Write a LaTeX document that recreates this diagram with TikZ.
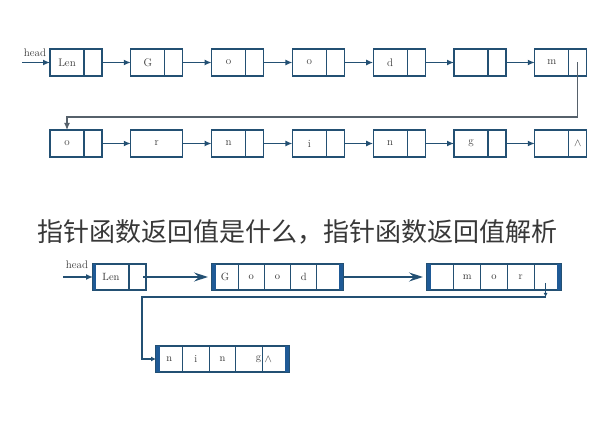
\documentclass[tikz,border=0pt]{standalone}
\usepackage{fontspec}
\newfontfamily\cjk{Noto Sans CJK SC}
\usetikzlibrary{positioning,arrows.meta}

\definecolor{boxblue}{HTML}{235073}
\definecolor{barblue}{HTML}{1F5A96}
\definecolor{linkgray}{HTML}{56616B}
\definecolor{labelgray}{HTML}{3A3A3A}

\tikzset{
  cell/.style={draw=boxblue, line width=1.2pt, minimum height=27pt, inner sep=0pt, outer sep=0pt, text=labelgray, font=\fontsize{11}{13}\selectfont},
  datacell/.style={cell, minimum width=34pt},
  ptrcell/.style={cell, minimum width=18pt},
  wholecell/.style={cell, minimum width=52pt},
  seqcell/.style={cell, minimum height=26pt, minimum width=#1, font=\fontsize{10.5}{12}\selectfont},
  link/.style={draw=boxblue, line width=1.4pt, -{Latex[length=7pt,width=6pt]}},
  bigarrow/.style={draw=boxblue, line width=1.3pt, shorten >=4pt, -{Stealth[length=14pt,width=9pt,inset=5pt]}},
  bar/.style={fill=barblue, draw=none},
}

\begin{document}
\begin{tikzpicture}[x=1pt, y=-1pt]

\useasboundingbox (0,0) rectangle (598,446);

% Good morning list, first row
\path
(35,53) node [text=labelgray, font=\fontsize{11}{13}\selectfont] (head1) {head};
\coordinate (h1) at (22,62.5);

\node[datacell] (t1) at (67,62.5) {Len};
\node[ptrcell, right=0pt of t1] (t1p) {};
\node[datacell] (t2) at (147.8,62.5) {G};
\node[ptrcell, right=0pt of t2] (t2p) {};
\node[datacell] (t3) at (228.6,62.5) {o};
\node[ptrcell, right=0pt of t3] (t3p) {};
\node[datacell] (t4) at (309.4,62.5) {o};
\node[ptrcell, right=0pt of t4] (t4p) {};
\node[datacell] (t5) at (390.2,62.5) {d};
\node[ptrcell, right=0pt of t5] (t5p) {};
\node[datacell] (t6) at (471,62.5) {};
\node[ptrcell, right=0pt of t6] (t6p) {};
\node[datacell] (t7) at (551.8,62.5) {m};
\node[ptrcell, right=0pt of t7] (t7p) {};

\draw[link] (h1) -- (t1.west);
\draw[link] (t1p.east) -- (t2.west);
\draw[link] (t2p.east) -- (t3.west);
\draw[link] (t3p.east) -- (t4.west);
\draw[link] (t4p.east) -- (t5.west);
\draw[link] (t5p.east) -- (t6.west);
\draw[link] (t6p.east) -- (t7.west);

% Good morning list, second row
\node[datacell] (b1) at (67,143.5) {o};
\node[ptrcell, right=0pt of b1] (b1p) {};
\node[wholecell] (b2) at (156.8,143.5) {r};
\node[datacell] (b3) at (228.6,143.5) {n};
\node[ptrcell, right=0pt of b3] (b3p) {};
\node[datacell] (b4) at (309.4,143.5) {i};
\node[ptrcell, right=0pt of b4] (b4p) {};
\node[datacell] (b5) at (390.2,143.5) {n};
\node[ptrcell, right=0pt of b5] (b5p) {};
\node[datacell] (b6) at (471,143.5) {g};
\node[ptrcell, right=0pt of b6] (b6p) {};
\node[datacell] (b7) at (551.8,143.5) {};
\node[ptrcell, right=0pt of b7] (b7p) {$\wedge$};

\coordinate (bend) at (67,117);
\draw[link, draw=linkgray, line width=1.2pt] (t7p.center) |- (bend) -- (b1.north);

\draw[link] (b1p.east) -- (b2.west);
\draw[link] (b2.east) -- (b3.west);
\draw[link] (b3p.east) -- (b4.west);
\draw[link] (b4p.east) -- (b5.west);
\draw[link] (b5p.east) -- (b6.west);
\draw[link] (b6p.east) -- (b7.west);

% Caption
\node[font=\cjk\fontsize{26}{26}\selectfont, text=black!78] (title) at (297.5,232) {指针函数返回值是什么，指针函数返回值解析};

% Block list
\path
(77,265) node [text=labelgray, font=\fontsize{11}{13}\selectfont] (head2) {head};
\coordinate (h2) at (63,277);

\node[seqcell=36pt] (len) at (111,277) {Len};
\node[seqcell=17pt, right=0pt of len] (lenp) {};
\filldraw[bar] (len.north west) rectangle ++(2.5,26);
\draw[link] (h2) -- (len.west);

% first block
\node[seqcell=26.2pt] (g1) at (225.1,277) {G};
\node[seqcell=26.2pt, right=0pt of g1] (g2) {o};
\node[seqcell=26.2pt, right=0pt of g2] (g3) {o};
\node[seqcell=26.2pt, right=0pt of g3] (g4) {d};
\node[seqcell=26.2pt, right=0pt of g4] (g5) {};
\filldraw[bar] (g1.north west) rectangle ++(4,26);
\filldraw[bar] (g5.north east) rectangle ++(-4,26);

% second block
\node[seqcell=26.8pt] (m1) at (440.4,277) {};
\node[seqcell=26.8pt, right=0pt of m1] (m2) {m};
\node[seqcell=26.8pt, right=0pt of m2] (m3) {o};
\node[seqcell=26.8pt, right=0pt of m3] (m4) {r};
\node[seqcell=26.8pt, right=0pt of m4] (m5) {};
\filldraw[bar] (m1.north west) rectangle ++(4,26);
\filldraw[bar] (m5.north east) rectangle ++(-4,26);

% third block
\node[seqcell=26.6pt] (n1) at (169.3,359) {n};
\node[seqcell=26.6pt, right=0pt of n1] (n2) {i};
\node[seqcell=26.6pt, right=0pt of n2] (n3) {n};
\node[seqcell=26.6pt, right=0pt of n3, text width=24pt, align=right] (n4) {g};
\node[seqcell=26.6pt, right=0pt of n4, text width=22pt, align=left] (n5) {$\wedge$};
\filldraw[bar] (n1.north west) rectangle ++(4,26);
\filldraw[bar] (n5.north east) rectangle ++(-4,26);

\draw[bigarrow] ([xshift=-3pt]lenp.east) -- (g1.west);
\draw[bigarrow] (g5.east) -- (m1.west);

\coordinate (turn) at ([xshift=-2pt]m5.center |- 0,297);
\coordinate (bend2) at (142,297);
\draw[link, line width=1.1pt, -{Latex[length=4pt,width=4pt]}] ([xshift=-2pt,yshift=-6pt]m5.center) -- (turn);
\draw[link, line width=1.1pt, -{Latex[length=5pt,width=5pt]}] (turn) -- (bend2) |- (n1.west);

\end{tikzpicture}
\end{document}
